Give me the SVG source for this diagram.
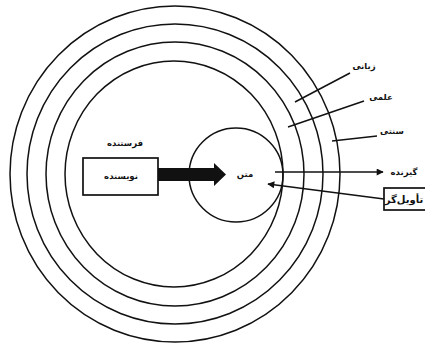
<svg xmlns="http://www.w3.org/2000/svg" width="425" height="343" viewBox="0 0 425 343">
<style>
.ring{fill:none;stroke:#111;stroke-width:1.5}
.ln{stroke:#111;stroke-width:1.5;fill:none}
.box{fill:#fff;stroke:#111;stroke-width:1.7}
.t{font-family:"DejaVu Sans",sans-serif;font-size:8.5px;font-weight:bold;fill:#111;text-anchor:middle;direction:rtl}
.tb{font-size:10px}
</style>
<defs>
<marker id="ah" viewBox="0 0 10 10" refX="9" refY="5" markerWidth="8" markerHeight="7" orient="auto" markerUnits="userSpaceOnUse">
<path d="M0,0 L10,5 L0,10 Z" fill="#111"/>
</marker>
</defs>
<rect width="425" height="343" fill="#fff"/>
<g id="rings">
<ellipse class="ring" cx="175" cy="174" rx="165" ry="168"/>
<ellipse class="ring" cx="175" cy="174" rx="148" ry="150"/>
<ellipse class="ring" cx="175" cy="174" rx="129" ry="132"/>
<ellipse class="ring" cx="174" cy="174" rx="109" ry="113"/>
</g>
<g id="text-circle">
<circle class="ring" cx="236" cy="175" r="47"/>
<text class="t" x="245" y="177">متن</text>
</g>
<g id="sender">
<text class="t" x="125" y="146">فرستنده</text>
<rect class="box" x="83" y="158" width="75" height="37"/>
<text class="t" x="121" y="179">نویسنده</text>
</g>
<g id="receiver">
<text class="t" x="404" y="175">گیرنده</text>
</g>
<g id="interpreter">
<rect class="box" x="384" y="188" width="44" height="22"/>
<text class="t tb" x="404" y="203">تأویل‌گر</text>
</g>
<g id="labels">
<text class="t" x="364" y="69">زبانی</text>
<text class="t" x="381" y="100">علمی</text>
<text class="t" x="392" y="134">سنتی</text>
</g>
<g id="connectors">
<polygon points="158,168 214,168 214,163 226,174.5 214,186 214,181 158,181" fill="#111"/>
<line class="ln" x1="275" y1="172" x2="383" y2="172" marker-end="url(#ah)"/>
<line class="ln" x1="384" y1="199" x2="268" y2="184" marker-end="url(#ah)"/>
<line class="ln" x1="295" y1="102" x2="350" y2="73"/>
<line class="ln" x1="288" y1="127" x2="364" y2="101"/>
<line class="ln" x1="332" y1="141" x2="377" y2="136"/>
</g>
</svg>
